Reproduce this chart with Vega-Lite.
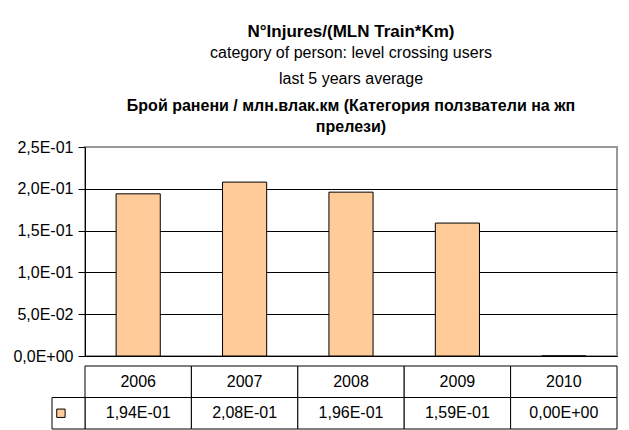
{
  "$schema": "https://vega.github.io/schema/vega-lite/v6.json",
  "background": "white",
  "padding": {"left": 11, "top": 23, "right": 5, "bottom": 5},
  "config": {
    "font": "Liberation Sans",
    "view": {"stroke": null}
  },
  "title": {
    "text": "N°Injures/(MLN Train*Km)",
    "subtitle": ["category of person: level crossing users", "last 5 years average"],
    "fontSize": 17,
    "fontWeight": "bold",
    "color": "black",
    "subtitleFontSize": 16,
    "subtitleColor": "black",
    "subtitleLineHeight": 26,
    "subtitlePadding": 4,
    "anchor": "middle",
    "frame": "group",
    "offset": 9
  },
  "spacing": 0,
  "vconcat": [
    {
      "width": 532,
      "height": 209,
      "title": {
        "text": ["Брой ранени / млн.влак.км (Категория ползватели на жп", "прелези)"],
        "fontSize": 16,
        "fontWeight": "bold",
        "color": "black",
        "lineHeight": 21,
        "anchor": "middle",
        "frame": "group",
        "offset": 4
      },
      "data": {
        "values": [
          {"year": "2006", "value": 0.194},
          {"year": "2007", "value": 0.208},
          {"year": "2008", "value": 0.196},
          {"year": "2009", "value": 0.159},
          {"year": "2010", "value": 0.0}
        ]
      },
      "view": {"stroke": "#999999", "strokeWidth": 2},
      "mark": {"type": "bar", "fill": "#FFCC99", "stroke": "black", "strokeWidth": 1, "width": {"band": 0.415}},
      "encoding": {
        "x": {
          "field": "year",
          "type": "ordinal",
          "scale": {"paddingInner": 0, "paddingOuter": 0},
          "axis": {"title": null, "labels": false, "ticks": false, "grid": false, "domainColor": "black", "domainWidth": 1}
        },
        "y": {
          "field": "value",
          "type": "quantitative",
          "scale": {"domain": [0, 0.25], "nice": false},
          "axis": {
            "title": null,
            "values": [0, 0.05, 0.1, 0.15, 0.2, 0.25],
            "labelExpr": "replace(replace(replace(format(datum.value, '.1e'), '.', ','), 'e-', 'E-0'), 'e+', 'E+0')",
            "labelFontSize": 16,
            "labelColor": "black",
            "labelPadding": 5,
            "tickColor": "black",
            "tickSize": 7,
            "domainColor": "black",
            "grid": true,
            "gridColor": {"condition": {"test": "datum.value < 0.24", "value": "#000000"}, "value": "#999999"},
            "gridOpacity": 1,
            "gridWidth": 1
          }
        }
      }
    },
    {
      "width": 532,
      "height": 63,
      "layer": [
        {
          "data": {
            "values": [
              {"year": "2006", "row": "year", "text": "2006"},
              {"year": "2007", "row": "year", "text": "2007"},
              {"year": "2008", "row": "year", "text": "2008"},
              {"year": "2009", "row": "year", "text": "2009"},
              {"year": "2010", "row": "year", "text": "2010"},
              {"year": "2006", "row": "value", "text": "1,94E-01"},
              {"year": "2007", "row": "value", "text": "2,08E-01"},
              {"year": "2008", "row": "value", "text": "1,96E-01"},
              {"year": "2009", "row": "value", "text": "1,59E-01"},
              {"year": "2010", "row": "value", "text": "0,00E+00"}
            ]
          },
          "encoding": {
            "x": {"field": "year", "type": "ordinal", "scale": {"paddingInner": 0, "paddingOuter": 0}, "axis": null},
            "y": {"field": "row", "type": "nominal", "scale": {"domain": ["year", "value"], "paddingInner": 0, "paddingOuter": 0}, "axis": null}
          },
          "layer": [
            {"mark": {"type": "rect", "fill": "white", "stroke": "black", "strokeWidth": 1}},
            {"mark": {"type": "text", "fontSize": 16, "color": "black"}, "encoding": {"text": {"field": "text"}}}
          ]
        },
        {
          "data": {"values": [{"row": "value", "series": "N°Injures/(MLN Train*Km)"}]},
          "encoding": {
            "y": {"field": "row", "type": "nominal", "axis": null}
          },
          "layer": [
            {
              "mark": {"type": "rect", "fill": "white", "stroke": "black", "strokeWidth": 1},
              "encoding": {
                "x": {"datum": 0, "type": "quantitative", "scale": {"domain": [0, 1], "range": [-33, 0]}, "axis": null},
                "x2": {"datum": 1}
              }
            },
            {
              "mark": {"type": "point", "shape": "square", "filled": true, "fill": "#FFCC99", "stroke": "black", "strokeWidth": 1, "size": 70, "opacity": 1},
              "encoding": {
                "x": {"datum": 0.27, "type": "quantitative", "scale": {"domain": [0, 1], "range": [-33, 0]}, "axis": null}
              }
            }
          ]
        }
      ],
      "resolve": {"scale": {"x": "independent"}}
    }
  ]
}
